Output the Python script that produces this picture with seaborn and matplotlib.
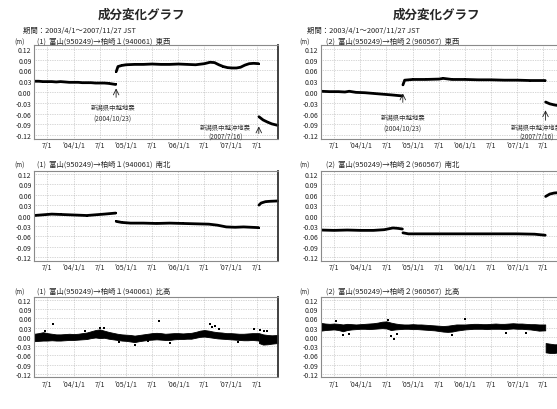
import numpy as np
import pandas as pd
import matplotlib.pyplot as plt
import matplotlib.dates as mdates
import seaborn as sns

sns.set_style('white')
plt.rcParams['font.family'] = ['Noto Sans CJK JP', 'DejaVu Sans']

# axis ranges / ticks
x_start, x_end = '2003-04-01', '2007-11-27'
quake_dates = ['2004-10-23', '2007-07-16']
x_tick_dates = ['2003-07-01', '2004-01-01', '2004-07-01', '2005-01-01', '2005-07-01',
                '2006-01-01', '2006-07-01', '2007-01-01', '2007-07-01']
x_tick_labels = ['7/1', "'04/1/1", '7/1', "'05/1/1", '7/1', "'06/1/1", '7/1', "'07/1/1", '7/1']
y_ticks = [0.12, 0.09, 0.06, 0.03, 0.00, -0.03, -0.06, -0.09, -0.12]
y_tick_labels = ['0.12', '0.09', '0.06', '0.03', '0.00', '-0.03', '-0.06', '-0.09', '-0.12']

# (1) 富山→柏崎1 東西
ew1_dates = ['2003-04-01', '2003-05-01', '2003-06-01', '2003-07-01', '2003-08-01', '2003-09-01',
             '2003-10-01', '2003-11-01', '2003-12-01', '2004-01-01', '2004-02-01', '2004-03-01',
             '2004-04-01', '2004-05-01', '2004-06-01', '2004-07-01', '2004-08-01', '2004-09-01',
             '2004-10-20',
             '2004-10-24', '2004-11-05', '2004-12-01', '2005-01-01', '2005-03-01', '2005-05-01',
             '2005-07-01', '2005-09-01', '2005-11-01', '2006-01-01', '2006-03-01', '2006-05-01',
             '2006-07-01', '2006-08-10', '2006-09-10', '2006-10-10', '2006-11-10', '2006-12-10',
             '2007-01-10', '2007-02-10', '2007-03-10', '2007-04-10', '2007-05-10', '2007-06-10',
             '2007-07-14',
             '2007-07-17', '2007-08-15', '2007-09-15', '2007-10-15', '2007-11-25']
ew1_vals = [0.030, 0.030, 0.029, 0.029, 0.029, 0.028, 0.029, 0.028, 0.027, 0.027, 0.027, 0.026,
            0.026, 0.026, 0.025, 0.025, 0.025, 0.024, 0.021,
            0.057, 0.071, 0.074, 0.076, 0.077, 0.077, 0.078, 0.077, 0.077, 0.078, 0.077, 0.076,
            0.079, 0.083, 0.082, 0.076, 0.071, 0.068, 0.067, 0.067, 0.069, 0.075, 0.079, 0.080,
            0.079,
            -0.069, -0.078, -0.084, -0.089, -0.093]

# (2) 富山→柏崎2 東西
ew2_dates = ['2003-04-01', '2003-06-01', '2003-08-01', '2003-09-15', '2003-10-15', '2003-12-01',
             '2004-02-01', '2004-04-01', '2004-06-01', '2004-08-01', '2004-10-20',
             '2004-10-24', '2004-11-05', '2005-01-01', '2005-04-01', '2005-07-01', '2005-08-01',
             '2005-10-01', '2006-01-01', '2006-04-01', '2006-07-01', '2006-10-01', '2007-01-01',
             '2007-04-01', '2007-07-14',
             '2007-07-17', '2007-08-15', '2007-09-15', '2007-10-15', '2007-11-25']
ew2_vals = [0.002, 0.001, 0.001, 0.000, 0.002, -0.001, -0.002, -0.004, -0.006, -0.008, -0.011,
            0.020, 0.033, 0.035, 0.035, 0.036, 0.038, 0.035, 0.035, 0.034, 0.034, 0.033, 0.033,
            0.032, 0.032,
            -0.028, -0.033, -0.036, -0.038, -0.040]

# (1) 南北
ns1_dates = ['2003-04-01', '2003-06-01', '2003-08-01', '2003-10-01', '2003-12-01', '2004-02-01',
             '2004-04-01', '2004-06-01', '2004-08-01', '2004-10-20',
             '2004-10-24', '2004-12-01', '2005-02-01', '2005-05-01', '2005-08-01', '2005-11-01',
             '2006-02-01', '2006-05-01', '2006-08-01', '2006-10-01', '2006-12-01', '2007-02-01',
             '2007-04-01', '2007-07-14',
             '2007-07-17', '2007-08-01', '2007-09-01', '2007-10-01', '2007-11-25']
ns1_vals = [0.000, 0.002, 0.004, 0.003, 0.002, 0.001, 0.000, 0.002, 0.004, 0.007,
            -0.017, -0.020, -0.022, -0.022, -0.023, -0.022, -0.023, -0.024, -0.025, -0.028,
            -0.033, -0.034, -0.033, -0.035,
            0.030, 0.036, 0.040, 0.041, 0.042]

# (2) 南北
ns2_dates = ['2003-04-01', '2003-07-01', '2003-10-01', '2004-01-01', '2004-04-01', '2004-06-15',
             '2004-08-15', '2004-09-15', '2004-10-20',
             '2004-10-24', '2004-12-01', '2005-06-01', '2006-01-01', '2006-07-01', '2007-01-01',
             '2007-05-01', '2007-07-14',
             '2007-07-17', '2007-08-15', '2007-09-15', '2007-10-15', '2007-11-25']
ns2_vals = [-0.042, -0.043, -0.042, -0.043, -0.043, -0.041, -0.036, -0.037, -0.039,
            -0.050, -0.053, -0.053, -0.053, -0.053, -0.053, -0.054, -0.057,
            0.055, 0.062, 0.065, 0.066, 0.067]

# 比高: band of daily scatter (lower / upper edge) read month by month
ud_dates = ['2003-04-01', '2003-05-01', '2003-06-01', '2003-07-01', '2003-08-01', '2003-09-01',
            '2003-10-01', '2003-11-01', '2003-12-01',
            '2004-01-01', '2004-02-01', '2004-03-01', '2004-04-01', '2004-05-01', '2004-06-01',
            '2004-07-01', '2004-08-01', '2004-09-01', '2004-10-01', '2004-11-01', '2004-12-01',
            '2005-01-01', '2005-02-01', '2005-03-01', '2005-04-01', '2005-05-01', '2005-06-01',
            '2005-07-01', '2005-08-01', '2005-09-01', '2005-10-01', '2005-11-01', '2005-12-01',
            '2006-01-01', '2006-02-01', '2006-03-01', '2006-04-01', '2006-05-01', '2006-06-01',
            '2006-07-01', '2006-08-01', '2006-09-01', '2006-10-01', '2006-11-01', '2006-12-01',
            '2007-01-01', '2007-02-01', '2007-03-01', '2007-04-01', '2007-05-01', '2007-06-01',
            '2007-07-14',
            '2007-07-17', '2007-08-15', '2007-09-15', '2007-10-15', '2007-11-25']
ud1_lo = [-0.014, -0.013, -0.012, -0.012, -0.011, -0.012, -0.012, -0.011, -0.010,
          -0.010, -0.009, -0.008, -0.007, -0.004, -0.002, -0.004, -0.003, -0.006, -0.008, -0.010, -0.012,
          -0.013, -0.015, -0.017, -0.014, -0.012, -0.010, -0.009, -0.008, -0.009, -0.010, -0.010, -0.008,
          -0.007, -0.007, -0.006, -0.006, -0.003, 0.000, 0.001, -0.001, -0.003, -0.005, -0.006, -0.007,
          -0.008, -0.009, -0.010, -0.011, -0.011, -0.010, -0.012,
          -0.020, -0.025, -0.024, -0.022, -0.020]
ud1_hi = [0.010, 0.012, 0.015, 0.012, 0.010, 0.008, 0.008, 0.009, 0.010,
          0.009, 0.010, 0.012, 0.014, 0.018, 0.022, 0.024, 0.020, 0.016, 0.013, 0.010, 0.008,
          0.007, 0.006, 0.004, 0.006, 0.008, 0.010, 0.012, 0.013, 0.012, 0.010, 0.011, 0.012,
          0.012, 0.011, 0.012, 0.013, 0.016, 0.020, 0.022, 0.020, 0.017, 0.015, 0.014, 0.012,
          0.012, 0.011, 0.010, 0.010, 0.011, 0.012, 0.012,
          0.012, 0.008, 0.006, 0.005, 0.006]
ud2_lo = [0.020, 0.022, 0.023, 0.024, 0.022, 0.018, 0.022, 0.024, 0.025,
          0.026, 0.026, 0.025, 0.026, 0.027, 0.028, 0.027, 0.022, 0.024, 0.025, 0.026, 0.026,
          0.025, 0.025, 0.024, 0.023, 0.022, 0.021, 0.019, 0.017, 0.016, 0.017, 0.020, 0.022,
          0.024, 0.025, 0.026, 0.026, 0.026, 0.025, 0.026, 0.026, 0.026, 0.025, 0.026, 0.027,
          0.026, 0.026, 0.025, 0.024, 0.022, 0.020, 0.021,
          -0.050, -0.052, -0.052, -0.050, -0.050]
ud2_hi = [0.045, 0.043, 0.042, 0.043, 0.042, 0.040, 0.042, 0.041, 0.040,
          0.041, 0.042, 0.043, 0.044, 0.046, 0.049, 0.050, 0.046, 0.043, 0.041, 0.040, 0.040,
          0.041, 0.040, 0.040, 0.039, 0.038, 0.037, 0.036, 0.035, 0.036, 0.038, 0.040, 0.040,
          0.040, 0.041, 0.042, 0.042, 0.041, 0.041, 0.042, 0.043, 0.042, 0.042, 0.043, 0.044,
          0.043, 0.043, 0.042, 0.041, 0.041, 0.040, 0.040,
          -0.020, -0.022, -0.024, -0.024, -0.024]

# isolated points outside the bands
ud1_out_dates = ['2003-06-15', '2003-08-10', '2004-03-20', '2004-07-05', '2004-08-01', '2004-11-15',
                 '2005-03-05', '2005-06-01', '2005-08-18', '2005-11-05', '2006-08-10', '2006-08-25',
                 '2006-09-12', '2006-10-10', '2007-02-20', '2007-06-10', '2007-07-25', '2007-08-20',
                 '2007-09-10']
ud1_out_vals = [0.020, 0.042, 0.020, 0.030, 0.028, -0.018, -0.027, -0.015, 0.051, -0.021, 0.040,
                0.033, 0.035, 0.025, -0.018, 0.026, 0.022, 0.020, 0.018]
ud2_out_dates = ['2003-07-15', '2003-09-01', '2003-10-10', '2004-07-10', '2004-08-05', '2004-08-22',
                 '2004-09-10', '2005-10-01', '2005-12-29', '2006-10-10', '2007-03-01']
ud2_out_vals = [0.050, 0.006, 0.010, 0.054, 0.003, -0.006, 0.008, 0.005, 0.057, 0.012, 0.012]

col_titles = ['(1)  富山(950249)→柏崎１(940061)', '(2)  富山(950249)→柏崎２(960567)']
comp_names = ['東西', '南北', '比高']

# ---- layout (pixels of the 557x410 page)
W, H = 557, 410
col_x = [34.3, 321.0]
ax_w = 243.7
rows = [(46.4, 139.6), (171.5, 261.5), (297.6, 378.1)]

fig = plt.figure(figsize=(W / 100, H / 100), dpi=100)

q1, q2 = pd.to_datetime(quake_dates)


def line_df(dates, vals, breaks):
    d = pd.to_datetime(dates)
    seg = sum((d > b).astype(int) for b in breaks)
    return pd.DataFrame({'date': d, 'val': vals, 'seg': seg})


def style_axes(ax, left_col):
    ax.set_xlim(pd.Timestamp(x_start), pd.Timestamp(x_end))
    ax.set_ylim(-0.13, 0.13)
    ax.set_xticks(pd.to_datetime(x_tick_dates))
    ax.set_xticklabels(x_tick_labels)
    ax.set_yticks(y_ticks)
    ax.set_yticklabels(y_tick_labels)
    ax.grid(True, color='#b0b0b0', linestyle=(0, (1, 1.5)), linewidth=0.5)
    ax.tick_params(length=0, labelsize=5, pad=2, colors='#222222')
    for s in ax.spines.values():
        s.set_color('#8a8a8a')
        s.set_linewidth(0.8)
    if left_col:
        ax.spines['right'].set_color('#333333')
        ax.spines['right'].set_linewidth(1.3)
    ax.set_xlabel('')
    ax.set_ylabel('')


def make_ax(c, r):
    top, bot = rows[r]
    return fig.add_axes([col_x[c] / W, 1 - bot / H, ax_w / W, (bot - top) / H])


def ftext(x, y, s, **kw):
    fig.text(x / W, 1 - y / H, s, **kw)


line_series = [[(ew1_dates, ew1_vals), (ns1_dates, ns1_vals)],
               [(ew2_dates, ew2_vals), (ns2_dates, ns2_vals)]]
band_series = [(ud1_lo, ud1_hi, ud1_out_dates, ud1_out_vals),
               (ud2_lo, ud2_hi, ud2_out_dates, ud2_out_vals)]

axes = {}
for c in range(2):
    for r in range(2):
        ax = make_ax(c, r)
        dates, vals = line_series[c][r]
        sns.lineplot(data=line_df(dates, vals, [q1, q2]), x='date', y='val', units='seg',
                     estimator=None, color='black', linewidth=2.0, marker='s', markersize=1.8,
                     markeredgewidth=0, legend=False, ax=ax)
        style_axes(ax, c == 0)
        axes[(c, r)] = ax

    # height component: no break in 2004, only at the 2007 quake
    ax = make_ax(c, 2)
    lo, hi, od, ov = band_series[c]
    bdf = line_df(ud_dates, lo, [q2])
    bdf['hi'] = hi
    for _, g in bdf.groupby('seg'):
        ax.fill_between(g['date'], g['val'], g['hi'], color='black', linewidth=0.6)
    sns.scatterplot(x=pd.to_datetime(od), y=ov, color='black', marker='s', s=2.5,
                    linewidth=0, ax=ax)
    style_axes(ax, c == 0)
    axes[(c, 2)] = ax

# headers
title_x = [141, 436]
period_x = [23, 307]
unit_x = [20, 305]
sub_x = [37, 326]
row_y = [42, 165, 292]
for c in range(2):
    ftext(title_x[c], 15, '成分変化グラフ', fontsize=9, fontweight='bold', ha='center', va='center')
    ftext(period_x[c], 31, '期間：2003/4/1～2007/11/27 JST', fontsize=5.3, ha='left', va='center')
    for r in range(3):
        ftext(unit_x[c], row_y[r] + 1, '(m)', fontsize=4.5, ha='center', va='center')
        ftext(sub_x[c], row_y[r], col_titles[c] + '  ' + comp_names[r], fontsize=5.3,
              ha='left', va='center')

# earthquake annotations (top row)
ann = [
    # col, quake, arrow head, arrow tail, text x, text y1, text y2, label
    (0, quake_dates[0], 0.010, -0.015, '2004-09-30', -0.043, -0.071, '新潟県中越地震', '(2004/10/23)'),
    (0, quake_dates[1], -0.096, -0.116, '2006-11-27', -0.099, -0.121, '新潟県中越沖地震', '(2007/7/16)'),
    (1, quake_dates[0], -0.004, -0.029, '2004-10-23', -0.071, -0.099, '新潟県中越地震', '(2004/10/23)'),
    (1, quake_dates[1], -0.051, -0.079, '2007-05-15', -0.099, -0.121, '新潟県中越沖地震', '(2007/7/16)'),
]
for c, qd, yh, yt, tx, ty1, ty2, l1, l2 in ann:
    ax = axes[(c, 0)]
    xq = mdates.date2num(pd.Timestamp(qd))
    ax.annotate('', xy=(xq, yh), xytext=(xq, yt),
                arrowprops=dict(arrowstyle='->', lw=0.6, color='#222222', shrinkA=0, shrinkB=0))
    xt = mdates.date2num(pd.Timestamp(tx))
    ax.text(xt, ty1, l1, fontsize=4.6, color='#333333', ha='center', va='center')
    ax.text(xt, ty2, l2, fontsize=4.6, color='#333333', ha='center', va='center')

fig.savefig('out.png', dpi=100)
